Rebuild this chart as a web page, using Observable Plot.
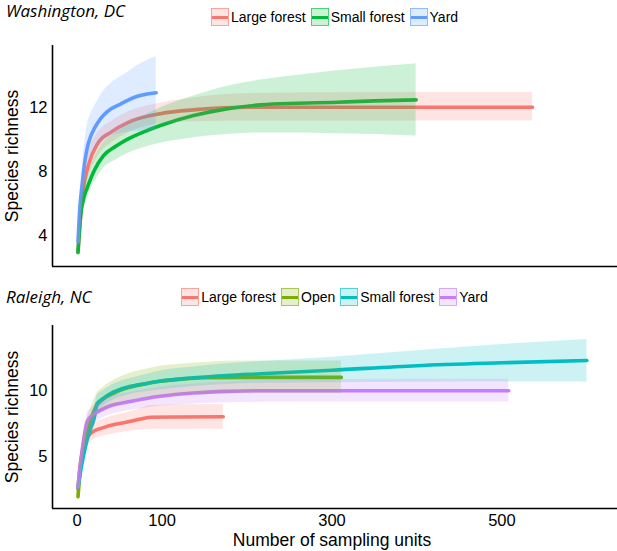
<!DOCTYPE html>
<html>
<head>
<meta charset="utf-8">
<script src="https://cdn.jsdelivr.net/npm/d3@7"></script>
<script src="https://cdn.jsdelivr.net/npm/@observablehq/plot@0.6"></script>
<style>
  html, body { margin: 0; padding: 0; background: #fff; }
  #wrap { width: 617px; height: 551px; position: relative; overflow: hidden; }
  .hdr { position: relative; width: 617px; }
  .title { position: absolute; left: 6px; font-family: "Open Sans", "Noto Sans", sans-serif; font-style: italic; font-size: 17px; color: #000; white-space: nowrap; line-height: 22px; }
  .legend { position: absolute; left: 52px; width: 565px; display: flex; justify-content: center; align-items: center; font-family: "Liberation Sans", Arial, sans-serif; font-size: 14px; color: #000; line-height: 18px; }
  .item { display: flex; align-items: center; margin: 0 2.5px; }
  .sw { position: relative; width: 16px; height: 16px; margin-right: 2px; box-sizing: content-box; }
  .sw .bar { position: absolute; left: 0; right: 0; top: 6.5px; height: 3px; }
  svg { display: block; }
</style>
</head>
<body>
<div id="wrap">
  <div class="hdr" id="h1" style="height:40px"></div>
  <div id="p1"></div>
  <div class="hdr" id="h2" style="height:48px"></div>
  <div id="p2"></div>
</div>
<script>
// ---------------- Washington, DC ----------------
const dcSeries = ["Large forest", "Small forest", "Yard"];
const dcColors = ["#F8766D", "#00BA38", "#619CFF"];

const dcLargeX  = [1, 7, 14, 24, 40, 60, 98, 140, 200, 300, 400, 536];
const dcLargeY  = [3.0, 6.8, 8.5, 9.72, 10.45, 11.06, 11.6, 11.85, 12.0, 12.0, 12.0, 12.0];
const dcLargeLo = [2.6, 5.9, 7.7, 8.9, 9.75, 10.4, 10.95, 11.1, 11.15, 11.15, 11.15, 11.15];
const dcLargeHi = [3.4, 7.7, 9.3, 10.4, 11.1, 11.7, 12.25, 12.6, 12.85, 12.9, 12.92, 12.92];

const dcSmallX  = [1, 4, 8, 12, 20, 31, 45, 59, 80, 98, 137, 176, 216, 260, 300, 350, 399];
const dcSmallY  = [2.94, 5.2, 6.4, 7.0, 8.04, 8.98, 9.55, 10.0, 10.5, 10.86, 11.48, 11.9, 12.15, 12.25, 12.3, 12.4, 12.46];
const dcSmallLo = [2.5, 4.6, 5.7, 6.3, 7.3, 8.2, 8.7, 9.1, 9.5, 9.75, 10.1, 10.3, 10.4, 10.4, 10.35, 10.3, 10.21];
const dcSmallHi = [3.4, 5.8, 7.1, 7.7, 8.8, 9.8, 10.4, 10.9, 11.5, 11.95, 12.7, 13.3, 13.7, 14.0, 14.25, 14.5, 14.71];

const dcYardX  = [1, 3, 6, 9, 12, 16, 20, 25, 31, 40, 51, 60, 71, 82, 93];
const dcYardY  = [3.6, 5.6, 7.2, 8.6, 9.5, 10.2, 10.65, 11.1, 11.5, 11.9, 12.2, 12.45, 12.69, 12.82, 12.9];
const dcYardLo = [3.2, 4.8, 6.2, 7.3, 8.3, 8.9, 9.3, 9.65, 9.9, 10.2, 10.35, 10.45, 10.5, 10.52, 10.54];
const dcYardHi = [4.0, 6.4, 8.2, 9.8, 10.9, 11.6, 12.0, 12.5, 13.0, 13.5, 13.9, 14.2, 14.6, 14.9, 15.17];

// ---------------- Raleigh, NC ----------------
const ncSeries = ["Large forest", "Open", "Small forest", "Yard"];
const ncColors = ["#F8766D", "#7CAE00", "#00BFC4", "#C77CFF"];

const ncLargeX  = [1, 3, 6, 10, 15, 20, 31, 45, 59, 72, 86, 120, 172];
const ncLargeY  = [2.5, 4.0, 5.3, 6.2, 6.7, 6.94, 7.2, 7.45, 7.63, 7.82, 8.0, 8.02, 8.03];
const ncLargeLo = [2.1, 3.5, 4.6, 5.5, 6.0, 6.3, 6.55, 6.75, 6.9, 7.0, 7.05, 7.07, 7.07];
const ncLargeHi = [2.9, 4.5, 6.0, 6.9, 7.4, 7.6, 7.85, 8.15, 8.35, 8.6, 8.9, 8.95, 8.98];

const ncOpenX  = [1, 4, 8, 13, 18, 23, 31, 45, 59, 80, 98, 120, 150, 200, 250, 311];
const ncOpenY  = [1.9, 4.2, 6.0, 7.3, 8.2, 8.9, 9.4, 9.9, 10.25, 10.55, 10.75, 10.9, 11.02, 11.05, 11.05, 11.05];
const ncOpenLo = [1.5, 3.6, 5.3, 6.5, 7.4, 8.0, 8.5, 8.9, 9.2, 9.45, 9.6, 9.7, 9.75, 9.8, 9.8, 9.8];
const ncOpenHi = [2.3, 4.8, 6.7, 8.1, 9.0, 9.8, 10.3, 10.9, 11.3, 11.65, 11.9, 12.05, 12.2, 12.3, 12.3, 12.3];

const ncSmallX  = [1, 5, 10, 15, 20, 23.5, 30, 39, 59, 80, 98, 137, 176, 216, 300, 400, 500, 600];
const ncSmallY  = [2.6, 4.2, 5.8, 7.0, 7.9, 9.03, 9.4, 9.8, 10.3, 10.57, 10.77, 11.02, 11.2, 11.33, 11.6, 11.95, 12.17, 12.35];
const ncSmallLo = [2.2, 3.7, 5.2, 6.3, 7.2, 8.4, 8.8, 9.2, 9.7, 9.95, 10.1, 10.35, 10.5, 10.6, 10.65, 10.68, 10.69, 10.69];
const ncSmallHi = [3.0, 4.7, 6.4, 7.7, 8.6, 9.65, 10.0, 10.4, 10.9, 11.25, 11.55, 11.85, 12.1, 12.27, 12.6, 13.1, 13.57, 13.96];

const ncYardX  = [1, 4, 8, 11.7, 18, 27, 40, 59, 80, 98, 137, 176, 216, 300, 400, 508];
const ncYardY  = [2.65, 4.5, 6.4, 7.63, 8.15, 8.52, 8.9, 9.16, 9.42, 9.6, 9.85, 9.98, 10.03, 10.03, 10.03, 10.03];
const ncYardLo = [2.3, 4.0, 5.8, 7.0, 7.5, 7.85, 8.2, 8.5, 8.7, 8.85, 9.0, 9.1, 9.15, 9.16, 9.16, 9.16];
const ncYardHi = [3.0, 5.0, 7.0, 8.25, 8.8, 9.2, 9.6, 9.85, 10.1, 10.3, 10.55, 10.7, 10.8, 10.88, 10.9, 10.9];

const xTicks = [0, 100, 300, 500];
const dcYTicks = [4, 8, 12];
const ncYTicks = [5, 10];

function rows(series, xs, ys, los, his) {
  return xs.map((x, i) => ({series, x, y: ys[i], lo: los[i], hi: his[i]}));
}

const dc = [
  ...rows("Large forest", dcLargeX, dcLargeY, dcLargeLo, dcLargeHi),
  ...rows("Small forest", dcSmallX, dcSmallY, dcSmallLo, dcSmallHi),
  ...rows("Yard", dcYardX, dcYardY, dcYardLo, dcYardHi)
];
const nc = [
  ...rows("Large forest", ncLargeX, ncLargeY, ncLargeLo, ncLargeHi),
  ...rows("Open", ncOpenX, ncOpenY, ncOpenLo, ncOpenHi),
  ...rows("Small forest", ncSmallX, ncSmallY, ncSmallLo, ncSmallHi),
  ...rows("Yard", ncYardX, ncYardY, ncYardLo, ncYardHi)
];

const xDomain = [-29, 636];

function header(el, title, names, colors, titleTop, legendTop) {
  const t = document.createElement("div");
  t.className = "title";
  t.style.top = titleTop + "px";
  t.textContent = title;
  el.appendChild(t);
  const lg = document.createElement("div");
  lg.className = "legend";
  lg.style.top = legendTop + "px";
  names.forEach((n, i) => {
    const c = d3.color(colors[i]);
    const it = document.createElement("div");
    it.className = "item";
    const sw = document.createElement("div");
    sw.className = "sw";
    const fill = d3.color(colors[i]); fill.opacity = 0.2;
    const brd = d3.color(colors[i]); brd.opacity = 0.6;
    sw.style.background = fill.formatRgb();
    sw.style.border = "1px solid " + brd.formatRgb();
    const bar = document.createElement("div");
    bar.className = "bar";
    bar.style.background = c.formatRgb();
    sw.appendChild(bar);
    const lab = document.createElement("span");
    lab.textContent = n;
    it.appendChild(sw);
    it.appendChild(lab);
    lg.appendChild(it);
  });
  el.appendChild(lg);
}

header(document.getElementById("h1"), "Washington, DC", dcSeries, dcColors, 0, 8);
header(document.getElementById("h2"), "Raleigh, NC", ncSeries, ncColors, 14, 16);

const font = "'Liberation Sans', Arial, sans-serif";

function panel(data, series, colors, yDomain, yTicks, height, mTop, mBottom, showX) {
  const marks = [
    Plot.line(data, {x: "x", y: "y", z: "series", stroke: "series", strokeWidth: 3.6, curve: "monotone-x"}),
    Plot.areaY(data, {x: "x", y1: "lo", y2: "hi", z: "series", fill: "series", fillOpacity: 0.2, curve: "monotone-x"}),
    Plot.axisY({ticks: yTicks, tickSize: 0, tickPadding: 5, label: null, fontSize: 16.5, fill: "#000"}),
    Plot.text(["Species richness"], {frameAnchor: "left", textAnchor: "middle", lineAnchor: "middle", rotate: -90, dx: -40, fontSize: 17.5, fill: "#000"}),
    Plot.ruleX([xDomain[0]], {stroke: "#000", strokeWidth: 1.6}),
    Plot.ruleY([yDomain[0]], {stroke: "#000", strokeWidth: 1.6})
  ];
  if (showX) {
    marks.push(Plot.axisX({ticks: xTicks, tickSize: 0, tickPadding: 6, label: null, fontSize: 16.5, fill: "#000"}));
    marks.push(Plot.text(["Number of sampling units"], {frameAnchor: "bottom", lineAnchor: "middle", textAnchor: "middle", dy: 32, dx: -3, fontSize: 17.5, fill: "#000"}));
  }
  return Plot.plot({
    width: 617, height,
    marginTop: mTop, marginBottom: mBottom, marginLeft: 52, marginRight: 0,
    style: {fontFamily: font, background: "#fff", color: "#000"},
    x: {domain: xDomain, axis: null},
    y: {domain: yDomain, axis: null},
    color: {domain: series, range: colors},
    marks
  });
}

document.getElementById("p1").appendChild(panel(dc, dcSeries, dcColors, [2.07, 15.85], dcYTicks, 232, 5, 6, false));
document.getElementById("p2").appendChild(panel(nc, ncSeries, ncColors, [1.0, 15.03], ncYTicks, 231, 5, 43, true));
</script>
</body>
</html>
